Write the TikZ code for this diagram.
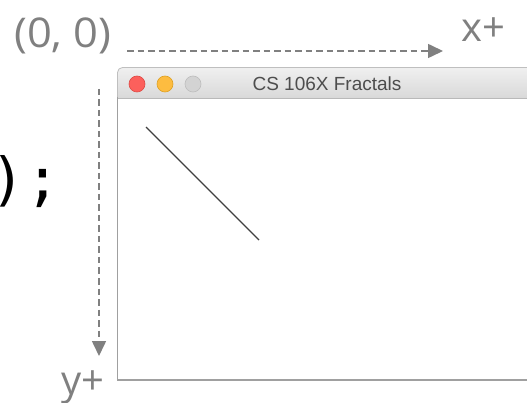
\documentclass[tikz,border=0pt]{standalone}
\usepackage{fontspec}
\setmainfont{Open Sans}
\newfontfamily\monofnt{DejaVu Sans Mono}
\newfontfamily\titlefnt{Liberation Sans}
\usetikzlibrary{arrows.meta}
\definecolor{axisgray}{HTML}{808080}
\definecolor{winborder}{HTML}{A0A0A0}
\definecolor{tlred}{HTML}{FC605C}
\definecolor{tlredb}{HTML}{DE4A45}
\definecolor{tlyellow}{HTML}{FDBC40}
\definecolor{tlyellowb}{HTML}{DEA123}
\definecolor{tlgray}{HTML}{D3D3D3}
\definecolor{tlgrayb}{HTML}{BDBDBD}
\definecolor{titletext}{HTML}{4D4D4D}
\tikzset{
  lbl/.style={text=axisgray, font=\fontsize{40}{42}\selectfont, inner sep=0pt},
  axisarrow/.style={draw=axisgray, line width=1.6pt, dash pattern=on 6.5pt off 4pt,
    -{Triangle[length=15pt,width=14pt]}},
  light/.style={circle, minimum size=16pt, inner sep=0pt, line width=0.6pt},
}
\begin{document}
\begin{tikzpicture}[x=1pt,y=-1pt]
\useasboundingbox (0,0) rectangle (527,403);
\clip (0,0) rectangle (527,403);
% labels
\node[lbl, anchor=base west, xscale=1.06, font=\fontsize{41}{43}\selectfont] (origin) at (14,48) {(0, 0)};
\node[lbl, anchor=base west] (xplus) at (461,42) {x+};
\node[lbl, anchor=base west] (yplus) at (61,394) {y+};
\node[anchor=base west, inner sep=0pt, font=\monofnt\fontsize{58}{60}\selectfont] (code) at (-10,200) {);};
% axes
\coordinate (xs) at (127,51);
\coordinate (xe) at (443,51);
\coordinate (ys) at (99,89);
\coordinate (ye) at (99,356);
\draw[axisarrow] (xs) -- (xe);
\draw[axisarrow] (ys) -- (ye);
% window
\fill[white] (117.5,98) rectangle (540,380);
\shade[top color=gray!12, bottom color=gray!30] (117.5,98) [rounded corners=5pt] -- (117.5,67.5) -- (545,67.5) [sharp corners] -- (545,98) -- cycle;
\draw[gray!50, line width=0.8pt] (117.5,98) [rounded corners=5pt] -- (117.5,67.5) -- (545,67.5);
\draw[gray!55, line width=0.8pt] (117.5,98.2) -- (545,98.2);
\draw[winborder, line width=1.2pt] (117.5,97) -- (117.5,380) -- (545,380);
\node[light, fill=tlred, draw=tlredb] (red) at (137,84) {};
\node[light, fill=tlyellow, draw=tlyellowb] (yellow) at (165,84) {};
\node[light, fill=tlgray, draw=tlgrayb] (grey) at (193,84) {};
\node[text=titletext, font=\titlefnt\fontsize{19}{20}\selectfont, inner sep=0pt] (title) at (327,84) {CS 106X Fractals};
% drawn line
\draw[black!75, line width=1.2pt] (146,127) -- (259,240);
\end{tikzpicture}
\end{document}
